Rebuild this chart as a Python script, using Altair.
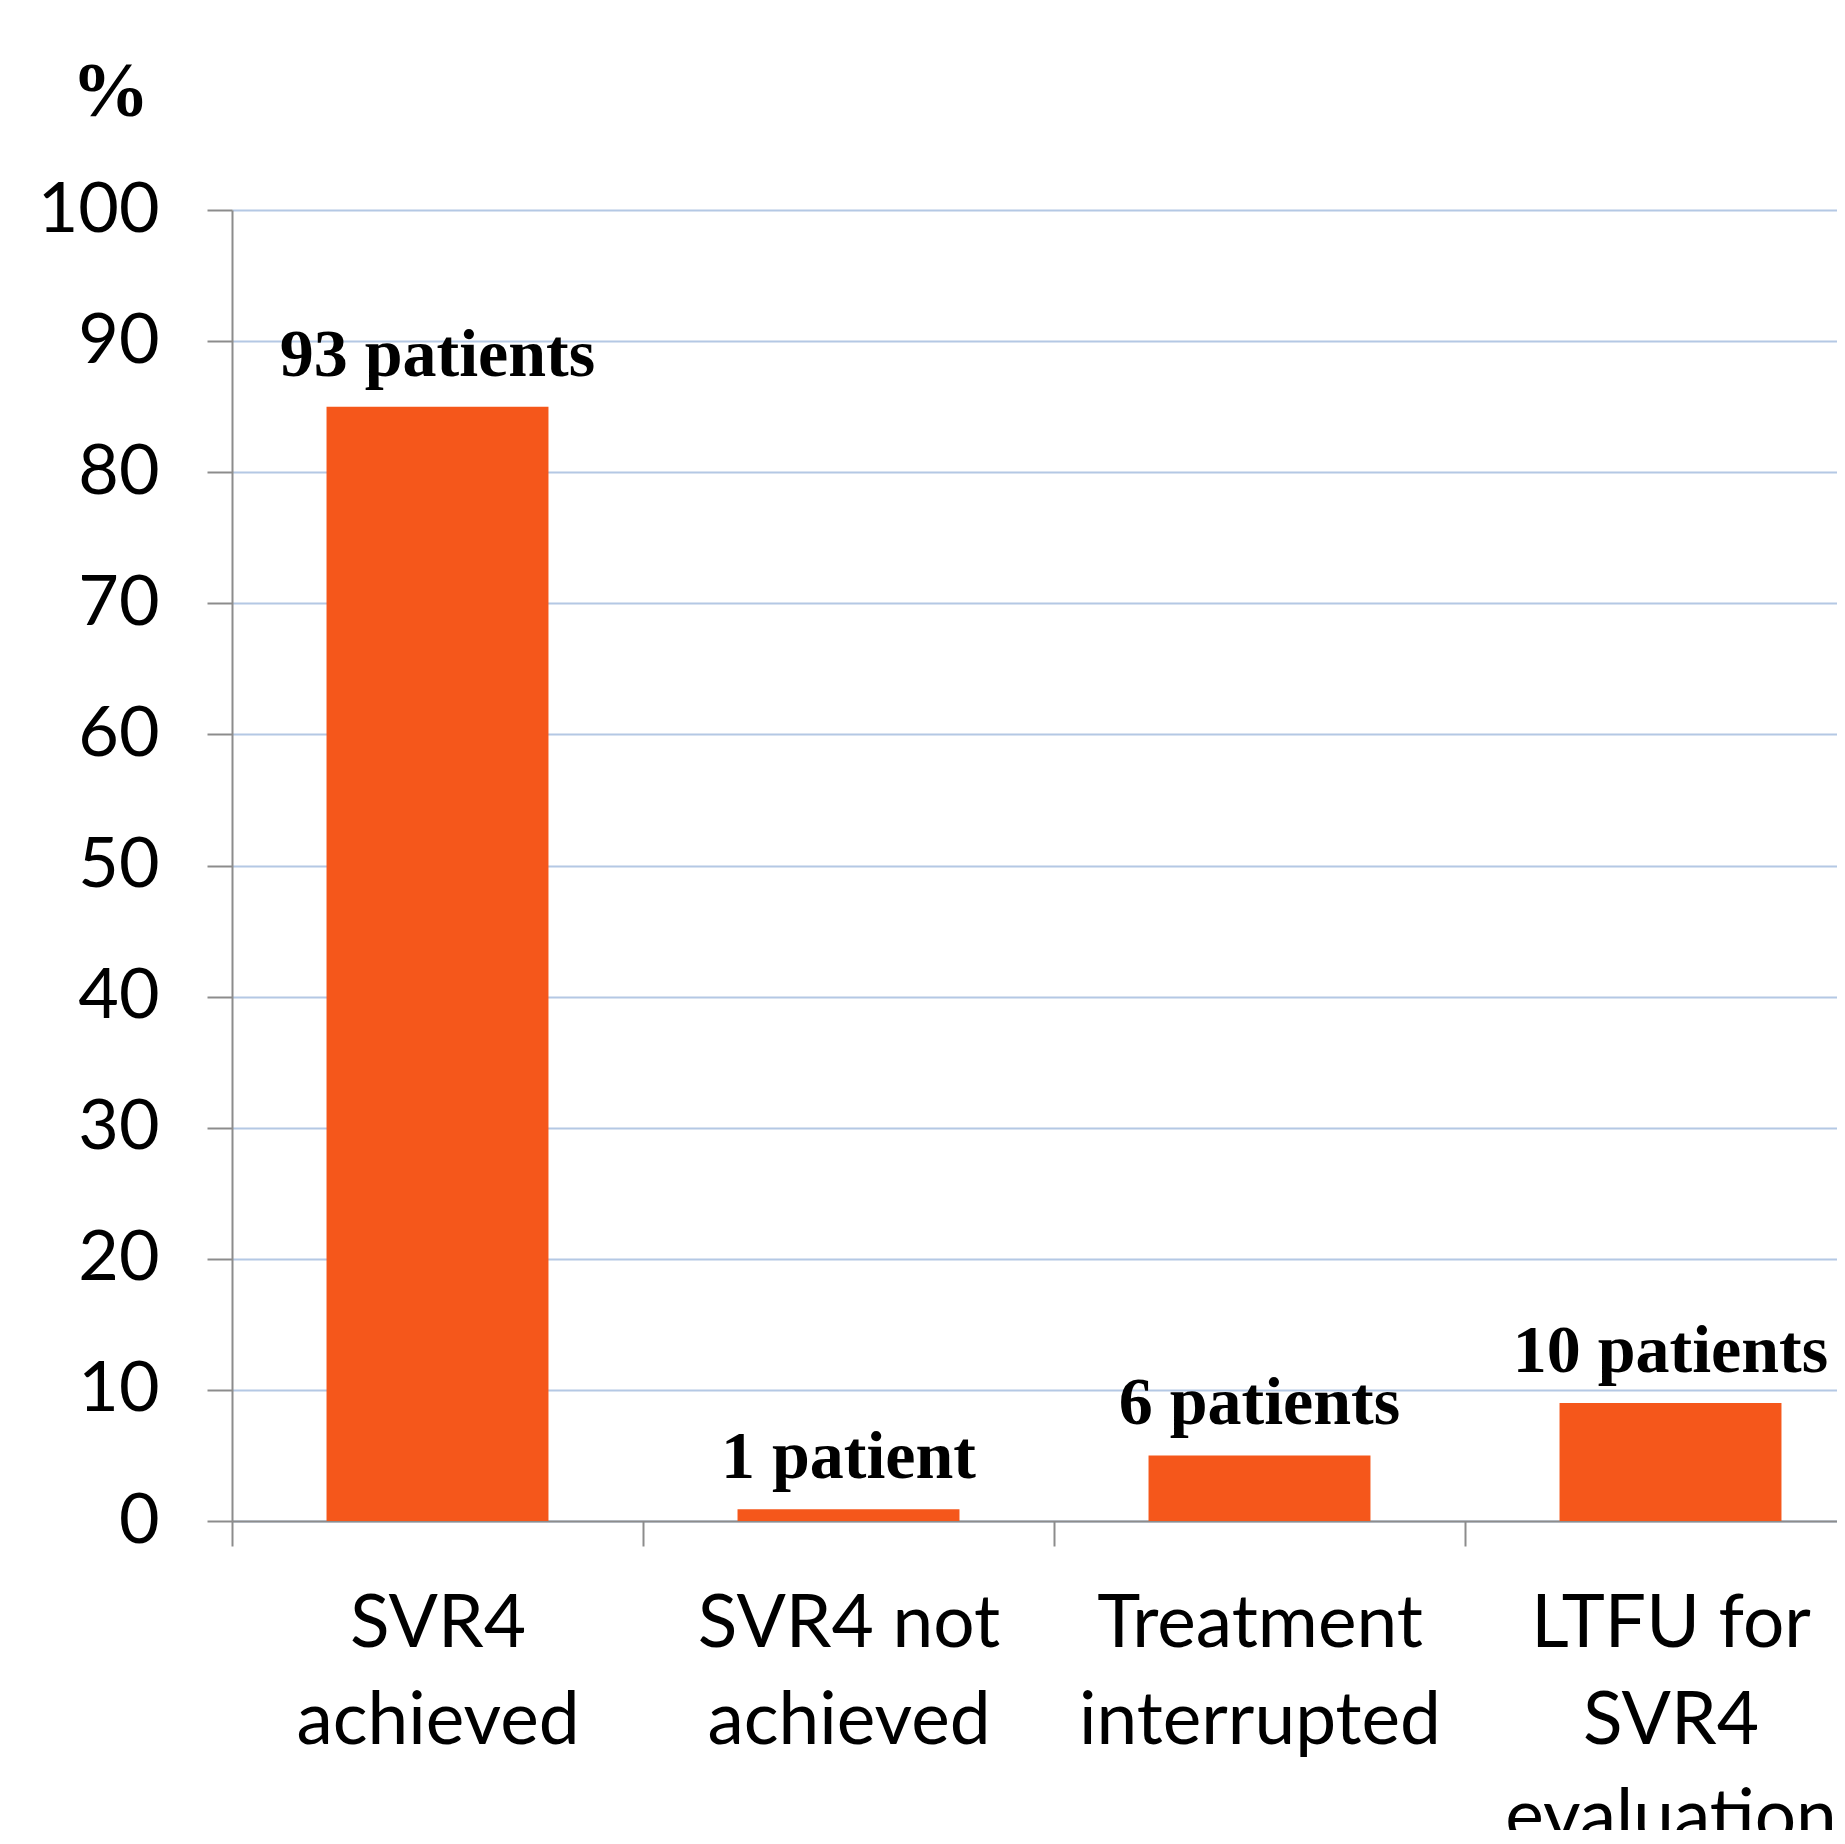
import altair as alt
import pandas as pd

categories = ["SVR4\nachieved", "SVR4 not\nachieved", "Treatment\ninterrupted", "LTFU for\nSVR4\nevaluation"]
percent = [85.0, 0.9, 5.0, 9.0]
bar_labels = ["93 patients", "1 patient", "6 patients", "10 patients"]

df = pd.DataFrame({"cat": categories, "pct": percent, "lab": bar_labels})

AX = "#8c8c8c"
x_scale = alt.Scale(range=[0, 1644], paddingInner=0, paddingOuter=0)
x_enc = alt.X(
    "cat:N", sort=None, scale=x_scale,
    axis=alt.Axis(
        title=None, labelAngle=0, labelFont="Lato", labelFontSize=73, labelColor="black",
        labelExpr="split(datum.label, '\\n')", labelLineHeight=97, labelBaseline="top",
        labelPadding=42, labelLimit=0, labelOverlap=False, labelBound=False,
        tickBand="extent", tickSize=25, tickColor=AX, tickWidth=2,
        domainColor=AX, domainWidth=2, grid=False,
    ),
)
y_enc = alt.Y(
    "pct:Q",
    scale=alt.Scale(domain=[0, 100], nice=False),
    axis=alt.Axis(
        values=list(range(0, 101, 10)), title="%", titleAngle=0, titleFont="Liberation Serif",
        titleFontWeight="bold", titleFontSize=78, titleColor="black", titleX=-122, titleY=-95,
        titleAlign="center", titleBaseline="alphabetic",
        labelFont="Lato", labelFontSize=70, labelColor="black", labelPadding=48,
        tickSize=25, tickColor=AX, tickWidth=2, domainColor=AX, domainWidth=2,
        grid=True, gridColor="#b4c8e4", gridWidth=2,
    ),
)

bars = alt.Chart(df).mark_bar(color="#F5571B", width=alt.RelativeBandSize(0.54)).encode(x=x_enc, y=y_enc)
texts = alt.Chart(df).mark_text(
    font="Liberation Serif", fontWeight="bold", fontSize=68, dy=-31,
    baseline="alphabetic", align="center", color="black",
).encode(x=alt.X("cat:N", sort=None), y="pct:Q", text="lab:N")

chart = alt.layer(bars, texts).properties(
    width=1605, height=1311,
    autosize=alt.AutoSizeParams(type="none"),
    padding={"left": 224, "top": 202, "right": 0, "bottom": 309},
).configure_view(stroke=None)

chart.save("out.html", embed_options={"renderer": "svg", "actions": False})
